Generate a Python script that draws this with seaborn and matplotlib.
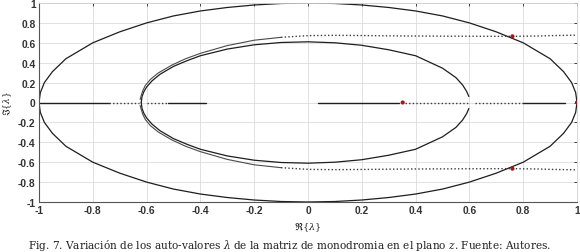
import matplotlib
matplotlib.use("Agg")
import matplotlib.pyplot as plt
import seaborn as sns
import numpy as np
import pandas as pd

# ---------------- data ----------------
# outer eigenvalue locus (upper half; lower half is its conjugate)
outer_x = [-1.0, -0.995, -0.98, -0.95, -0.9, -0.8, -0.7, -0.6, -0.5, -0.4, -0.3, -0.2, -0.1,
           0.0, 0.1, 0.2, 0.3, 0.4, 0.5, 0.6, 0.7, 0.8, 0.9, 0.95, 0.98, 0.995, 1.0]
outer_y = [0.0, 0.1, 0.2, 0.31, 0.44, 0.6, 0.71, 0.8, 0.87, 0.92, 0.955, 0.98, 0.995,
           1.0, 0.995, 0.98, 0.955, 0.92, 0.87, 0.8, 0.71, 0.6, 0.44, 0.31, 0.2, 0.1, 0.0]

# inner locus (solid)
inner_x = [-0.62, -0.617, -0.61, -0.60, -0.58, -0.55, -0.5, -0.45, -0.4, -0.3, -0.2, -0.1,
           0.0, 0.1, 0.2, 0.3, 0.4, 0.5, 0.55, 0.575, 0.59, 0.598]
inner_y = [0.0, 0.06, 0.11, 0.155, 0.217, 0.284, 0.363, 0.42, 0.47, 0.537, 0.58, 0.603,
           0.61, 0.6, 0.575, 0.53, 0.47, 0.345, 0.25, 0.175, 0.11, 0.06]

# second inner branch, solid part
branch_x = [-0.624, -0.620, -0.614, -0.605, -0.586, -0.556, -0.506, -0.455, -0.4, -0.3, -0.2, -0.1]
branch_y = [0.03, 0.07, 0.12, 0.17, 0.232, 0.298, 0.376, 0.44, 0.494, 0.572, 0.626, 0.655]

# second inner branch, dotted part
branch_dot_x = [-0.1, 0.0, 0.1, 0.2, 0.3, 0.4, 0.5, 0.6, 0.7, 0.76, 0.85, 0.9, 1.0]
branch_dot_y = [0.655, 0.672, 0.675, 0.673, 0.670, 0.668, 0.667, 0.666, 0.665, 0.665, 0.668, 0.672, 0.677]

# real-axis segments
axis_solid = [(-1.0, -0.74), (-0.52, -0.38), (0.037, 0.34), (0.80, 0.955)]
axis_dotted = [(-0.74, -0.63), (-0.60, -0.52), (0.36, 0.60), (0.62, 0.80)]

# marked eigenvalues
mark_x = [0.352, 1.0, 0.76, 0.76]
mark_y = [0.0, 0.0, 0.665, -0.665]

ticks = [-1, -0.8, -0.6, -0.4, -0.2, 0, 0.2, 0.4, 0.6, 0.8, 1]
tick_labels = ["-1", "-0.8", "-0.6", "-0.4", "-0.2", "0", "0.2", "0.4", "0.6", "0.8", "1"]

caption = "Fig. 7. Variación de los auto-valores $\\lambda$ de la matriz de monodromia en el plano $z$. Fuente: Autores."

# ---------------- plot ----------------
sns.set_style("whitegrid")
plt.rcParams['font.family'] = ['Liberation Sans', 'DejaVu Sans']
plt.rcParams['mathtext.fontset'] = 'dejavuserif'

fig = plt.figure(figsize=(5.8, 2.53), dpi=100)
ax = fig.add_axes([39/580, 1-203/253, 538/580, 199/253])

LC = "#1e1e1e"

def curve(x, y, **kw):
    df = pd.DataFrame({"x": x, "y": y})
    sns.lineplot(data=df, x="x", y="y", sort=False, estimator=None, ax=ax, legend=False, **kw)

for sgn in (1, -1):
    curve(outer_x, [sgn*v for v in outer_y], color=LC, lw=0.9)
    curve(inner_x, [sgn*v for v in inner_y], color=LC, lw=0.9)
    curve(branch_x, [sgn*v for v in branch_y], color="#4a4a4a", lw=0.8)
    curve(branch_dot_x, [sgn*v for v in branch_dot_y], color="#3a3a3a", lw=1.0,
          linestyle=(0, (1, 1.6)))

for a, b in axis_solid:
    curve([a, b], [0, 0], color=LC, lw=1.0)
for a, b in axis_dotted:
    curve([a, b], [0, 0], color="#3a3a3a", lw=1.0, linestyle=(0, (1, 1.6)))

sns.scatterplot(x=mark_x, y=mark_y, ax=ax, color="#9b1c1c", s=9, edgecolor="none", zorder=5)

ax.set_xlim(-1, 1)
ax.set_ylim(-1, 1)
ax.set_xticks(ticks)
ax.set_yticks(ticks)
ax.set_xticklabels(tick_labels)
ax.set_yticklabels(tick_labels)
ax.tick_params(axis="both", labelsize=7.4, colors="#262626", direction="in", length=2.5,
               width=0.6, pad=2.5, top=True, right=True)
for lab in ax.get_xticklabels() + ax.get_yticklabels():
    lab.set_fontweight("bold")
    lab.set_color("#333333")
ax.grid(True, color="#dcdcdc", lw=0.6)
for s in ("left", "bottom"):
    ax.spines[s].set_color("#555555")
    ax.spines[s].set_linewidth(0.8)
for s in ("top", "right"):
    ax.spines[s].set_color("#d0d0d0")
    ax.spines[s].set_linewidth(0.6)

ax.set_xlabel("$\\Re\\{\\lambda\\}$", fontsize=7, labelpad=3)
ax.set_ylabel("$\\Im\\{\\lambda\\}$", fontsize=6.6)
ax.yaxis.set_label_coords(-(39 - 14) / 538, 0.5)

fig.text(0.5, 1-246/253, caption, ha="center", va="center", fontsize=7.6,
         family=["DejaVu Serif"], color="#222222")

fig.savefig("out.png", dpi=100)
